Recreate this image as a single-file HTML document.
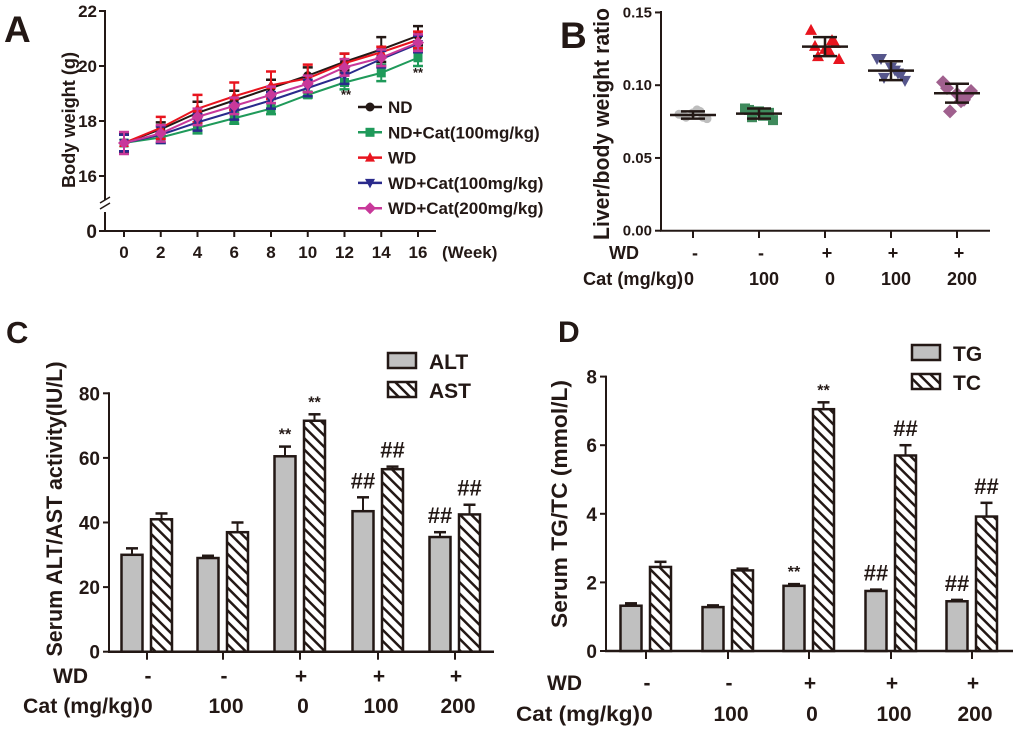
<!DOCTYPE html>
<html><head><meta charset="utf-8"><style>
html,body{margin:0;padding:0;background:#fff;}
svg{display:block;font-family:"Liberation Sans",Arial,sans-serif;font-weight:bold;}
</style></head><body>
<svg id="fig" width="1020" height="731" viewBox="0 0 1020 731">
<defs>
<pattern id="hatch" patternUnits="userSpaceOnUse" width="8" height="8" patternTransform="rotate(-45)">
<rect width="8" height="8" fill="#fff"/>
<line x1="0" y1="0" x2="0" y2="8" stroke="#231815" stroke-width="5"/>
</pattern>
</defs>
</svg>
<script>
// ---------- Panel A data ----------
const weeks=[0,2,4,6,8,10,12,14,16];
const seriesNames=["ND","ND+Cat(100mg/kg)","WD","WD+Cat(100mg/kg)","WD+Cat(200mg/kg)"];
const bwND=[17.2,17.7,18.3,18.75,19.2,19.65,20.15,20.6,21.1];
const bwNDCat=[17.2,17.4,17.75,18.1,18.45,18.95,19.4,19.75,20.3];
const bwWD=[17.2,17.75,18.45,18.9,19.3,19.55,20.1,20.5,20.95];
const bwWDCat100=[17.2,17.5,17.95,18.35,18.75,19.2,19.65,20.25,20.8];
const bwWDCat200=[17.2,17.55,18.15,18.55,18.95,19.35,19.95,20.3,20.85];
const errND=[0.35,0.25,0.4,0.35,0.3,0.3,0.3,0.45,0.35];
const errNDCat=[0.3,0.2,0.2,0.2,0.2,0.1,0.25,0.3,0.3];
const errWD=[0.3,0.4,0.5,0.5,0.5,0.5,0.35,0.2,0.3];
const errWDCat100=[0.3,0.3,0.3,0.3,0.3,0.3,0.3,0.3,0.3];
const errWDCat200=[0.4,0.3,0.3,0.3,0.3,0.3,0.3,0.3,0.3];
const yTicksA=[16,18,20,22];
// ---------- Panel B data ----------
const groupsB=["ND","ND+Cat100","WD","WD+Cat100","WD+Cat200"];
const wdRow=["-","-","+","+","+"];
const catRow=["0","100","0","100","200"];
const ptsB0=[0.080,0.078,0.081,0.082,0.077,0.079,0.083,0.078];
const ptsB1=[0.084,0.078,0.082,0.080,0.076,0.083,0.079,0.081];
const ptsB2=[0.138,0.120,0.125,0.131,0.118,0.127,0.124,0.129];
const ptsB3=[0.118,0.105,0.112,0.108,0.103,0.118,0.110,0.107];
const ptsB4=[0.102,0.082,0.094,0.090,0.096,0.098,0.089,0.093];
const meanB=[0.0795,0.0805,0.1265,0.1100,0.0945];
const sdB=[0.0025,0.0035,0.0065,0.0065,0.0065];
const yTicksB=[0,0.05,0.10,0.15];
// ---------- Panel C data ----------
const altVals=[30,29,60.5,43.5,35.5];
const altErr=[2,0.7,3,4.3,1.5];
const astVals=[41,37,71.5,56.5,42.5];
const astErr=[1.8,3,2,0.8,3];
const sigALT=["","","**","##","##"];
const sigAST=["","","**","##","##"];
const yTicksC=[0,20,40,60,80];
// ---------- Panel D data ----------
const tgVals=[1.32,1.28,1.9,1.75,1.45];
const tgErr=[0.07,0.05,0.05,0.04,0.04];
const tcVals=[2.45,2.35,7.05,5.7,3.92];
const tcErr=[0.15,0.05,0.2,0.3,0.4];
const sigTG=["","","**","##","##"];
const sigTC=["","","**","##","##"];
const yTicksD=[0,2,4,6,8];

const NS="http://www.w3.org/2000/svg";
const svg=document.getElementById('fig');
const INK="#231815";
function el(tag,attrs,parent,text){
  const e=document.createElementNS(NS,tag);
  for(const k in attrs)e.setAttribute(k,attrs[k]);
  if(text!==undefined)e.textContent=text;
  (parent||svg).appendChild(e);return e;
}
function grp(name){const g=el('g',{});


return g;}
function line(g,x1,y1,x2,y2,w,c){return el('line',{x1,y1,x2,y2,stroke:c||INK,'stroke-width':w||2},g);}
function txt(g,x,y,s,size,anchor,extra){const t=el('text',Object.assign({x,y,'font-size':size,'text-anchor':anchor||'start',fill:INK},extra||{}),g,s);return t;}
function errbar(g,x,yTop,yMid,cap,c,w){line(g,x,yMid,x,yTop,w||2,c);line(g,x-cap,yTop,x+cap,yTop,w||2.5,c);}
function catLabel(g,x0,x1,y,size){txt(g,x0,y,'Cat (mg/kg)',size,'start',{textLength:x1-x0,lengthAdjust:'spacingAndGlyphs'});}

// ================= PANEL A =================
(function(){
const g=grp('panel-a');
const xA=w=>124+w*18.375;
const yA=v=>66-(v-20)*27.5;
const lab=txt(g,4,42,'A',37,'start');


const ax=grp('panel-a-y-axis');g.appendChild(ax);
line(ax,105,10,105,200,2);line(ax,105,212,105,232,2);
line(ax,100,203,110,197,1.5);line(ax,100,209,110,203,1.5);
yTicksA.forEach(v=>{line(ax,99,yA(v),105,yA(v),2);txt(ax,97,yA(v)+6,String(v),17,'end');});
line(ax,99,231,105,231,2);txt(ax,97,238,'0',19,'end');
const yt=txt(ax,0,0,'Body weight (g)',18,'middle',{transform:'translate(75,120) rotate(-90)',textLength:136,lengthAdjust:'spacingAndGlyphs'});


const xa=grp('panel-a-x-axis');g.appendChild(xa);
line(xa,104,231,436,231,2);
weeks.forEach(w=>{line(xa,xA(w),231,xA(w),237,2);txt(xa,xA(w),258,String(w),17,'middle');});
txt(xa,442,258,'(Week)',17,'start');
const series=[[bwND,errND,'#231815','circle'],[bwNDCat,errNDCat,'#1f9a5a','square'],[bwWD,errWD,'#e8141e','tri'],[bwWDCat100,errWDCat100,'#2a2a8c','itri'],[bwWDCat200,errWDCat200,'#c8389a','diamond']];
function marker(gp,x,y,type,c){
  if(type==='circle')return el('circle',{cx:x,cy:y,r:4.5,fill:c},gp);
  if(type==='square')return el('rect',{x:x-4.5,y:y-4.5,width:9,height:9,fill:c},gp);
  if(type==='tri')return el('polygon',{points:`${x},${y-5.5} ${x-5},${y+4} ${x+5},${y+4}`,fill:c},gp);
  if(type==='itri')return el('polygon',{points:`${x},${y+5.5} ${x-5},${y-4} ${x+5},${y-4}`,fill:c},gp);
  return el('polygon',{points:`${x},${y-6} ${x+6},${y} ${x},${y+6} ${x-6},${y}`,fill:c},gp);
}
series.forEach((s,i)=>{
  const sg=grp('series-'+seriesNames[i].toLowerCase().replace(/[^a-z0-9]+/g,'-'));g.appendChild(sg);
  const [vals,errs,c,type]=s;
  vals.forEach((v,j)=>{const x=xA(weeks[j]);line(sg,x,yA(v-errs[j]),x,yA(v+errs[j]),2,c);line(sg,x-5,yA(v+errs[j]),x+5,yA(v+errs[j]),2.5,c);line(sg,x-5,yA(v-errs[j]),x+5,yA(v-errs[j]),2.5,c);});
  el('polyline',{points:vals.map((v,j)=>xA(weeks[j])+','+yA(v)).join(' '),fill:'none',stroke:c,'stroke-width':2},sg);
  vals.forEach((v,j)=>marker(sg,xA(weeks[j]),yA(v),type,c));
  const lg=grp('legend-entry-'+(i+1));g.appendChild(lg);
  const ly=107+i*25.3;
  line(lg,358,ly,382,ly,2.5,c);marker(lg,370,ly,type,c);
  txt(lg,388,ly+6,seriesNames[i],17,'start');
});
txt(g,346,99,'**',13,'middle');txt(g,418,77,'**',13,'middle');
})();

// ================= PANEL B =================
(function(){
const g=grp('panel-b');
const xs=[693,759,825,891,957];
const yB=v=>230.7-v*1455;
const lab=txt(g,560,48,'B',37,'start');


const ax=grp('panel-b-y-axis');g.appendChild(ax);
line(ax,661,11,661,231,2);
yTicksB.forEach(v=>{line(ax,655,yB(v),661,yB(v),2);txt(ax,652,yB(v)+5,v.toFixed(2),15,'end');});
const yt=txt(ax,0,0,'Liver/body weight ratio',22,'middle',{transform:'translate(609,124) rotate(-90)',textLength:232,lengthAdjust:'spacingAndGlyphs'});


const xa=grp('panel-b-x-axis');g.appendChild(xa);
line(xa,660,230.7,990,230.7,2);
xs.forEach((x,i)=>{line(xa,x,231,x,238,2);txt(xa,x+2,259,wdRow[i],18,'middle');if(i===0)txt(xa,684,285,catRow[i],18,'start');else txt(xa,x+5,285,catRow[i],18,'middle');});
txt(xa,609,259,'WD',18,'start');catLabel(xa,583,683,285,18);
const pts=[ptsB0,ptsB1,ptsB2,ptsB3,ptsB4];
const cols=['#bdbdbd','#3f8a5c','#e8141e','#56568c','#a0608e'];
const jit=[-14,-7,0,7,14,-10,4,10];
pts.forEach((arr,i)=>{
  const sg=grp('scatter-group-'+(i+1));g.appendChild(sg);
  const c=cols[i],x0=xs[i];
  arr.forEach((v,j)=>{const x=x0+jit[j],y=yB(v);
    if(i<=0)el('circle',{cx:x,cy:y,r:4.5,fill:c},sg);
    else if(i===1)el('rect',{x:x-5,y:y-5,width:10,height:10,fill:c},sg);
    else if(i===2)el('polygon',{points:`${x},${y-6} ${x-6},${y+5} ${x+6},${y+5}`,fill:c},sg);
    else if(i===3)el('polygon',{points:`${x},${y+6} ${x-6},${y-5} ${x+6},${y-5}`,fill:c},sg);
    else el('polygon',{points:`${x},${y-7} ${x+7},${y} ${x},${y+7} ${x-7},${y}`,fill:c},sg);
  });
  const m=yB(meanB[i]),t=yB(meanB[i]+sdB[i]),b=yB(meanB[i]-sdB[i]);
  line(sg,x0-23,m,x0+23,m,2.5);line(sg,x0,t,x0,b,2.5);line(sg,x0-12,t,x0+12,t,2.5);line(sg,x0-12,b,x0+12,b,2.5);
});
})();

// ================= BAR PANELS =================
function barPanel(o){
  const g=grp(o.name);
  const y=v=>o.y0-v*o.k;
  const lab=txt(g,o.labX,o.labY,o.label,o.labSize,'start');
  
  
  const ax=grp(o.name+'-y-axis');g.appendChild(ax);
  line(ax,o.ax,y(o.ticks[o.ticks.length-1])-1,o.ax,o.y0+1,2);
  o.ticks.forEach(v=>{line(ax,o.ax-6,y(v),o.ax,y(v),2);txt(ax,o.ax-9,y(v)+7,String(v),19,'end');});
  const yt=txt(ax,0,0,o.ytitle,22,'middle',{transform:`translate(${o.ytX},${o.ytY}) rotate(-90)`,textLength:o.ytLen,lengthAdjust:'spacingAndGlyphs'});
  
  
  const xa=grp(o.name+'-x-axis');g.appendChild(xa);
  line(xa,o.ax-1,o.y0,o.axEnd,o.y0,2.5);
  o.xs.forEach((x,i)=>{line(xa,x,o.y0,x,o.y0+8,2);txt(xa,x+1,o.wdY,wdRow[i],21,'middle');
    if(i===0)txt(xa,o.catEnd+1,o.catY,catRow[i],21,'start');else txt(xa,x+3,o.catY,catRow[i],21,'middle');});
  txt(xa,o.wdX,o.wdY,'WD',21,'start');catLabel(xa,o.catX,o.catEnd,o.catY,21);
  const bw=21;
  o.xs.forEach((x,i)=>{
    const bg=grp(o.name+'-bar-group-'+(i+1));g.appendChild(bg);
    [[o.a,o.ae,-15,'#c0c0c0',o.sa],[o.b,o.be,14.5,'url(#hatch)',o.sb]].forEach(([vals,errs,off,fill,sig])=>{
      const cx=x+off,v=vals[i];
      errbar(bg,cx,y(v+errs[i]),y(v),6);
      el('rect',{x:cx-bw/2,y:y(v),width:bw,height:o.y0-y(v),fill,stroke:INK,'stroke-width':2.5},bg);
      if(sig[i]){const big=sig[i]==='##';txt(bg,cx,y(v+errs[i])-(big?9:7),sig[i],big?22:16,'middle');}
    });
  });
  const lg1=grp(o.name+'-legend-entry-1');g.appendChild(lg1);
  el('rect',{x:o.legX,y:o.legY,width:28,height:15,fill:'#c0c0c0',stroke:INK,'stroke-width':2.5},lg1);
  txt(lg1,o.legX+41,o.legY+16,o.la,21,'start');
  const lg2=grp(o.name+'-legend-entry-2');g.appendChild(lg2);
  el('rect',{x:o.legX,y:o.legY+29,width:28,height:15,fill:'url(#hatch)',stroke:INK,'stroke-width':2.5},lg2);
  txt(lg2,o.legX+41,o.legY+45,o.lb,21,'start');
}
barPanel({name:'panel-c',label:'C',labX:6,labY:343,labSize:31,y0:651.7,k:3.23,ax:109,axEnd:494,ticks:yTicksC,
  xs:[147,223,300,378,455],a:altVals,ae:altErr,b:astVals,be:astErr,sa:sigALT,sb:sigAST,
  ytitle:'Serum ALT/AST activity(IU/L)',ytX:62,ytY:509,ytLen:295,wdY:683,catY:713,wdX:53,catX:23,catEnd:140,
  legX:388,legY:353,la:'ALT',lb:'AST'});
barPanel({name:'panel-d',label:'D',labX:558,labY:342,labSize:30,y0:651,k:34.3,ax:606,axEnd:1013,ticks:yTicksD,
  xs:[646,728,809,891,972],a:tgVals,ae:tgErr,b:tcVals,be:tcErr,sa:sigTG,sb:sigTC,
  ytitle:'Serum TG/TC (mmol/L)',ytX:567,ytY:504,ytLen:248,wdY:690,catY:721,wdX:547,catX:516,catEnd:640,
  legX:912,legY:345,la:'TG',lb:'TC'});
</script>
</body></html>
